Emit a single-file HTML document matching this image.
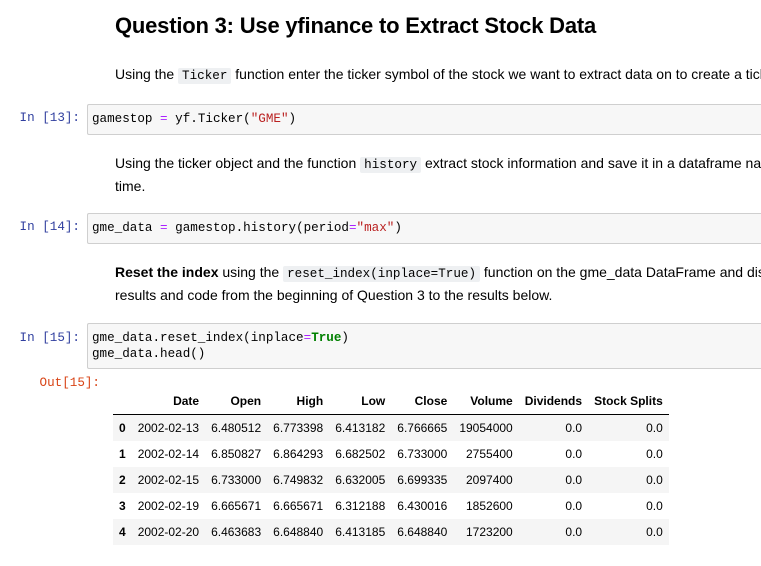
<!DOCTYPE html>
<html><head><meta charset="utf-8">
<style>
html,body{margin:0;width:761px;height:566px;overflow:hidden}
body{background:#fff;position:relative;font-family:"Liberation Sans",Arial,sans-serif;color:#000}
.a{position:absolute;white-space:nowrap}
.p{font-size:14px;line-height:21px;width:646px;overflow:hidden}
.c{font-family:"Liberation Mono",monospace;font-size:12.6px;background:#eef0f2;padding:1px 4px;border-radius:2px}
.prompt{font-family:"Liberation Mono",monospace;font-size:12.6px;color:#303f9f;width:80px;text-align:right;left:0}
.box{position:absolute;left:87px;right:0;background:#f7f7f7;border:1px solid #cfcfcf;border-right:none;border-radius:2px 0 0 2px;font-family:"Liberation Mono",monospace;font-size:12.6px;line-height:16px;padding:6px 4px;box-sizing:border-box;white-space:pre;overflow:hidden}
.o{color:#aa22ff}.s{color:#ba2121}.k{color:#008000;font-weight:bold}
table{position:absolute;left:113px;top:388px;border-collapse:collapse;font-size:12px}
th,td{text-align:right;padding:0 6px;height:26px;white-space:nowrap}
th{font-weight:bold}
thead tr{border-bottom:1px solid #000}
tbody tr:nth-child(odd){background:#f5f5f5}
</style></head><body>
<div class="a" style="left:115px;top:13px;font-size:22px;font-weight:bold;letter-spacing:-0.2px">Question 3: Use yfinance to Extract Stock Data</div>
<div class="a p" style="left:115px;top:64px">Using the <span class="c">Ticker</span> function enter the ticker symbol of the stock we want to extract data on to create a ticker object.</div>

<div class="a prompt" style="top:111px">In [13]:</div>
<div class="box" style="top:104px;height:31px">gamestop <span class="o">=</span> yf.Ticker(<span class="s">"GME"</span>)</div>

<div class="a p" style="left:115px;top:153px">Using the ticker object and the function <span class="c">history</span> extract stock information and save it in a dataframe named gme_data.<br>time.</div>

<div class="a prompt" style="top:220px">In [14]:</div>
<div class="box" style="top:213px;height:31px">gme_data <span class="o">=</span> gamestop.history(period<span class="o">=</span><span class="s">"max"</span>)</div>

<div class="a p" style="left:115px;top:262px"><b>Reset the index</b> using the <span class="c">reset_index(inplace=True)</span> function on the gme_data DataFrame and display the first five rows<br>results and code from the beginning of Question 3 to the results below.</div>

<div class="a prompt" style="top:331px">In [15]:</div>
<div class="box" style="top:323px;height:46px">gme_data.reset_index(inplace<span class="o">=</span><span class="k">True</span>)
gme_data.head()</div>

<div class="a prompt" style="top:376px;width:100px;color:#d84315">Out[15]:</div>

<table>
<thead><tr><th></th><th>Date</th><th>Open</th><th>High</th><th>Low</th><th>Close</th><th>Volume</th><th>Dividends</th><th>Stock Splits</th></tr></thead>
<tbody>
<tr><th>0</th><td>2002-02-13</td><td>6.480512</td><td>6.773398</td><td>6.413182</td><td>6.766665</td><td>19054000</td><td>0.0</td><td>0.0</td></tr>
<tr><th>1</th><td>2002-02-14</td><td>6.850827</td><td>6.864293</td><td>6.682502</td><td>6.733000</td><td>2755400</td><td>0.0</td><td>0.0</td></tr>
<tr><th>2</th><td>2002-02-15</td><td>6.733000</td><td>6.749832</td><td>6.632005</td><td>6.699335</td><td>2097400</td><td>0.0</td><td>0.0</td></tr>
<tr><th>3</th><td>2002-02-19</td><td>6.665671</td><td>6.665671</td><td>6.312188</td><td>6.430016</td><td>1852600</td><td>0.0</td><td>0.0</td></tr>
<tr><th>4</th><td>2002-02-20</td><td>6.463683</td><td>6.648840</td><td>6.413185</td><td>6.648840</td><td>1723200</td><td>0.0</td><td>0.0</td></tr>
</tbody></table>
</body></html>
